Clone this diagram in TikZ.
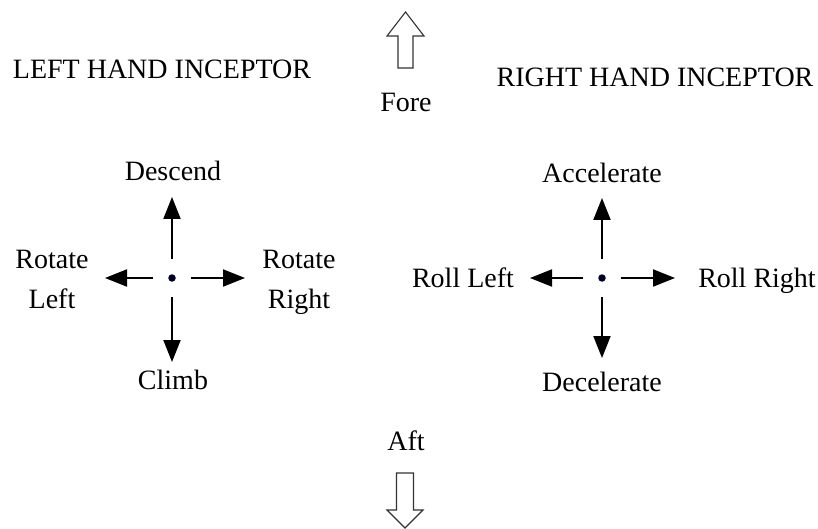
\documentclass[tikz,border=0pt]{standalone}
\usepackage{fontspec}
\setmainfont{Liberation Serif}
\usetikzlibrary{arrows.meta}
\begin{document}
\begin{tikzpicture}[x=1pt,y=-1pt,
  lbl/.style={anchor=base,inner sep=0pt,font=\fontsize{28}{40}\selectfont},
  hdr/.style={anchor=base,inner sep=0pt,font=\fontsize{28}{34}\selectfont},
  ctr/.style={circle,fill=black!85!blue,inner sep=0pt,minimum size=7.5pt,outer sep=15pt},
  dirarrow/.style={line width=2pt,-{Triangle[length=22pt,width=17pt]}},
  hollow/.style={draw=black!80,line width=1.1pt,fill=white,line join=miter}]
\useasboundingbox (0,0) rectangle (818,529);
% headers
\node[hdr] (lh) at (162,79) {LEFT HAND INCEPTOR};
\node[hdr] (rh) at (655,87) {RIGHT HAND INCEPTOR};
\node[lbl] (fore) at (406,112) {Fore};
\node[lbl] (aft) at (406,450) {Aft};
% hollow arrows
\draw[hollow] (405.5,12) -- (424,36) -- (413,36) -- (413,68) -- (398,68) -- (398,36) -- (387,36) -- cycle;
\draw[hollow] (405,528) -- (423,510) -- (413.5,510) -- (413.5,473) -- (396.5,473) -- (396.5,510) -- (387,510) -- cycle;
% left inceptor
\node[ctr] (lc) at (172,278) {};
\coordinate (lu) at (172,197);
\coordinate (ld) at (172,362);
\coordinate (ll) at (105,278);
\coordinate (lr) at (245,278);
\draw[dirarrow] (lc) -- (lu);
\draw[dirarrow] (lc) -- (ld);
\draw[dirarrow] (lc) -- (ll);
\draw[dirarrow] (lc) -- (lr);
\node[lbl] (descend) at (173,181) {Descend};
\node[lbl] (climb) at (173,389) {Climb};
\node[lbl,align=center] (rotl) at (52,308) {Rotate\\Left};
\node[lbl,align=center] (rotr) at (299,308) {Rotate\\Right};
% right inceptor
\node[ctr] (rc) at (602,278) {};
\coordinate (ru) at (602,198);
\coordinate (rd) at (602,358);
\coordinate (rl) at (530,278);
\coordinate (rr) at (675,278);
\draw[dirarrow] (rc) -- (ru);
\draw[dirarrow] (rc) -- (rd);
\draw[dirarrow] (rc) -- (rl);
\draw[dirarrow] (rc) -- (rr);
\node[lbl] (acc) at (602,183) {Accelerate};
\node[lbl] (dec) at (602,391) {Decelerate};
\node[lbl] (rolll) at (463,287) {Roll Left};
\node[lbl] (rollr) at (757,287) {Roll Right};
\end{tikzpicture}
\end{document}
